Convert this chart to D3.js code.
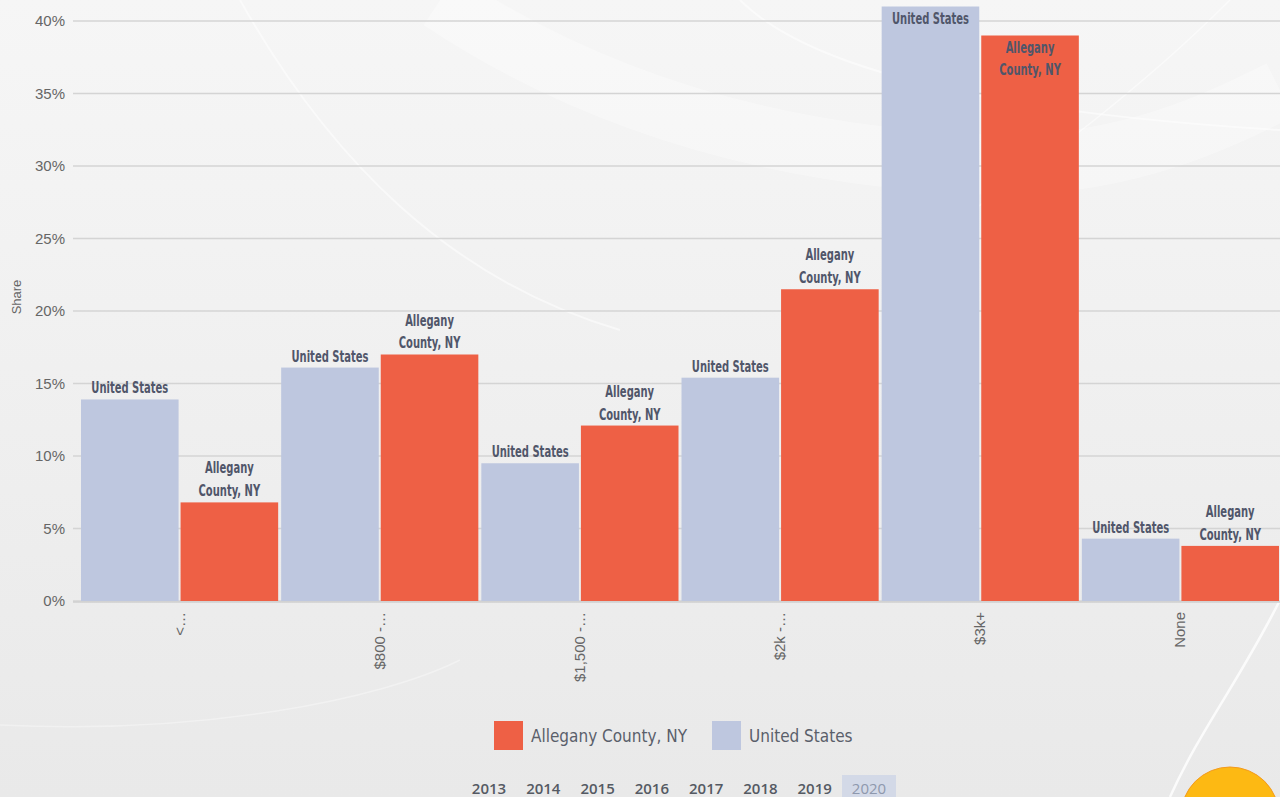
<!DOCTYPE html>
<html>
<head>
<meta charset="utf-8">
<script src="https://cdn.jsdelivr.net/npm/d3@7"></script>
<style>
  body { margin: 0; background: #ededed; }
  svg { display: block; }
  .tick-label { font-family: "Liberation Sans", Arial, sans-serif; font-size: 15px; fill: #666666; }
  .bar-label { font-family: "DejaVu Sans Condensed", "Liberation Sans Narrow", sans-serif; font-size: 15px; font-weight: bold; fill: #50566a; }
</style>
</head>
<body>
<div id="chart-area"></div>
<script>
var categories = ["<…", "$800 -…", "$1,500 -…", "$2k -…", "$3k+", "None"];
var usValues = [13.9, 16.1, 9.5, 15.4, 41.0, 4.3];
var alleganyValues = [6.8, 17.0, 12.1, 21.5, 39.0, 3.8];
var yTicks = [0, 5, 10, 15, 20, 25, 30, 35, 40];
var years = ["2013", "2014", "2015", "2016", "2017", "2018", "2019", "2020"];
var selectedYear = "2020";

var series = [
    {name: "United States", values: usValues, color: "#bec7df", lines: ["United States"]},
    {name: "Allegany County, NY", values: alleganyValues, color: "#ee6045", lines: ["Allegany", "County, NY"]}
];
var legendOrder = [series[1], series[0]];

var width = 1280, height = 797;
var margin = {top: 21, right: 0, bottom: 196, left: 80};

var svg = d3.select("#chart-area")
    .append("svg")
    .attr("width", width)
    .attr("height", height);

// background
var defs = svg.append("defs");
var bg = defs.append("linearGradient")
    .attr("id", "bg-grad")
    .attr("x1", "0%").attr("y1", "0%")
    .attr("x2", "0%").attr("y2", "100%");
bg.append("stop").attr("offset", "0%").attr("stop-color", "#f6f6f6");
bg.append("stop").attr("offset", "100%").attr("stop-color", "#e9e9e9");

svg.append("rect")
    .attr("width", width)
    .attr("height", height)
    .attr("fill", "url(#bg-grad)");

var swoosh = svg.append("g").attr("fill", "none").attr("stroke", "#ffffff");
swoosh.append("path")
    .attr("d", "M440,0 C620,120 820,160 1000,165 C1130,165 1220,120 1280,90")
    .attr("stroke-width", 60).attr("opacity", 0.3);
swoosh.append("path")
    .attr("d", "M240,0 C330,160 450,280 620,330")
    .attr("stroke-width", 2).attr("opacity", 0.5);
swoosh.append("path")
    .attr("d", "M740,0 C800,60 950,110 1280,130")
    .attr("stroke-width", 2).attr("opacity", 0.5);
swoosh.append("path")
    .attr("d", "M1230,0 C1150,80 1050,160 900,260")
    .attr("stroke-width", 1.5).attr("opacity", 0.5);
swoosh.append("path")
    .attr("d", "M0,725 C200,735 380,700 460,660")
    .attr("stroke-width", 1.5).attr("opacity", 0.35);
swoosh.append("path")
    .attr("d", "M1280,600 C1240,680 1200,730 1170,797")
    .attr("stroke-width", 2.5).attr("opacity", 0.8);

var g = svg.append("g");

var x0 = d3.scaleBand()
    .domain(categories)
    .range([margin.left, width - margin.right])
    .paddingInner(0.015)
    .paddingOuter(0.005);

var x1 = d3.scaleBand()
    .domain(series.map(d => d.name))
    .range([0, x0.bandwidth()])
    .paddingInner(0.02);

var y = d3.scaleLinear()
    .domain([0, 40])
    .range([height - margin.bottom, margin.top]);

// gridlines
g.selectAll(".grid")
    .data(yTicks)
    .enter()
    .append("line")
    .attr("x1", 73)
    .attr("x2", width)
    .attr("y1", d => y(d))
    .attr("y2", d => y(d))
    .attr("stroke", "#d4d4d4")
    .attr("stroke-width", 1.5);

// y axis
var yAxis = g.append("g")
    .attr("transform", "translate(70,0)")
    .call(d3.axisLeft(y).tickValues(yTicks).tickFormat(d => d + "%").tickSize(0).tickPadding(5));
yAxis.select(".domain").remove();
yAxis.selectAll("text").attr("class", "tick-label").attr("font-size", null).attr("font-family", null).attr("fill", null);

svg.append("text")
    .attr("class", "tick-label")
    .attr("transform", "translate(21," + 297 + ") rotate(-90)")
    .attr("text-anchor", "middle")
    .style("font-size", "13px")
    .text("Share");

// bars
var groups = g.selectAll(".group")
    .data(categories)
    .enter()
    .append("g")
    .attr("transform", d => "translate(" + x0(d) + ",0)");

var barData = function(cat, i) {
    return series.map(s => ({series: s, value: s.values[i]}));
};

groups.selectAll("rect")
    .data(barData)
    .enter()
    .append("rect")
    .attr("x", d => x1(d.series.name))
    .attr("y", d => y(d.value))
    .attr("width", x1.bandwidth())
    .attr("height", d => y(0) - y(d.value))
    .attr("fill", d => d.series.color);

// bar labels (squeezed horizontally to mimic the condensed face)
var lineH = 23;
groups.selectAll(".bar-label")
    .data(barData)
    .enter()
    .append("text")
    .attr("class", "bar-label")
    .attr("text-anchor", "middle")
    .each(function(d) {
        var top = y(d.value);
        var n = d.series.lines.length;
        var inside = top - n * lineH < 0;
        var firstY = inside ? top + 17 : top - 6 - (n - 1) * lineH;
        var cx = x1(d.series.name) + x1.bandwidth() / 2;
        var t = d3.select(this)
            .attr("transform", "translate(" + cx + "," + firstY + ") scale(0.74,1.08)");
        d.series.lines.forEach(function(line, k) {
            t.append("tspan")
                .attr("x", 0)
                .attr("y", k * lineH / 1.08)
                .text(line);
        });
    });

// baseline
g.append("line")
    .attr("x1", 73)
    .attr("x2", width)
    .attr("y1", y(0) + 1)
    .attr("y2", y(0) + 1)
    .attr("stroke", "#cfcfcf")
    .attr("stroke-width", 1.5);

// x axis labels
g.selectAll(".x-label")
    .data(categories)
    .enter()
    .append("text")
    .attr("class", "tick-label")
    .attr("text-anchor", "end")
    .attr("transform", d => "translate(" + (x0(d) + x0.bandwidth() / 2 + 5) + "," + (y(0) + 11) + ") rotate(-90)")
    .text(d => d);

// legend
var legend = svg.append("g")
    .attr("transform", "translate(494,721)");
var legendX = [0, 218];
legendOrder.forEach(function(s, i) {
    var item = legend.append("g").attr("transform", "translate(" + legendX[i] + ",0)");
    item.append("rect")
        .attr("width", 29)
        .attr("height", 29)
        .attr("fill", s.color);
    item.append("text")
        .attr("x", 37)
        .attr("y", 21)
        .attr("font-family", "'DejaVu Sans Condensed', sans-serif")
        .attr("font-size", "17px")
        .attr("fill", "#5a5f6a")
        .text(s.name);
});

// year selector
var yearX = d3.scalePoint()
    .domain(years)
    .range([489, 869]);

svg.append("rect")
    .attr("x", yearX(selectedYear) - 27)
    .attr("y", 775)
    .attr("width", 54)
    .attr("height", 24)
    .attr("fill", "#d3d9e7");

svg.selectAll(".year")
    .data(years)
    .enter()
    .append("text")
    .attr("x", d => yearX(d))
    .attr("y", 794)
    .attr("text-anchor", "middle")
    .attr("font-family", "'Open Sans', sans-serif")
    .attr("font-size", "15px")
    .attr("font-weight", d => d === selectedYear ? "normal" : "600")
    .attr("fill", d => d === selectedYear ? "#8e98ad" : "#555a63")
    .text(d => d);

// help button
svg.append("circle")
    .attr("cx", 1230)
    .attr("cy", 816)
    .attr("r", 49)
    .attr("fill", "#fdb913")
    .attr("stroke", "#f39a1e")
    .attr("stroke-width", 1);
</script>
</body>
</html>
